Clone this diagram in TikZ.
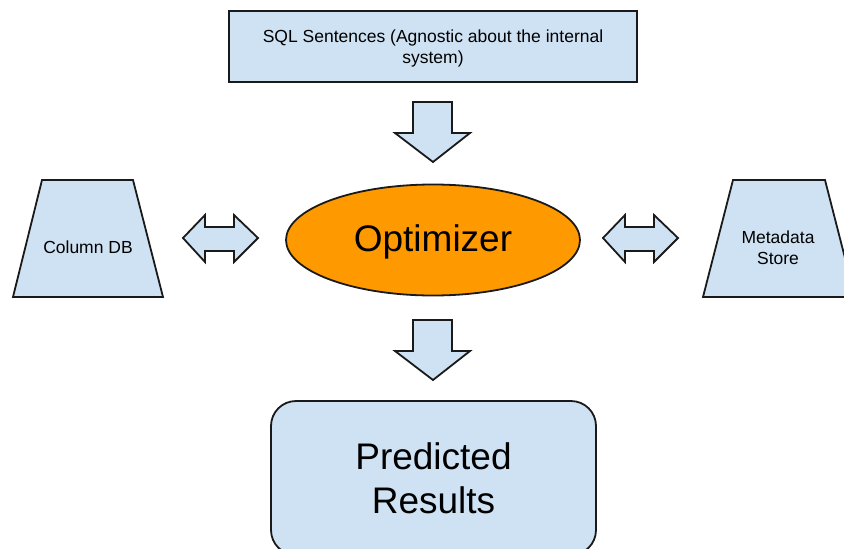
\documentclass[tikz,border=0pt]{standalone}
\usepackage{fontspec}
\setmainfont{Liberation Sans}
\usetikzlibrary{shapes.geometric}
\definecolor{boxblue}{HTML}{CFE2F3}
\definecolor{optorange}{HTML}{FF9900}
\definecolor{edgecol}{HTML}{1A1A1A}
\begin{document}
\begin{tikzpicture}[x=1pt,y=-1pt,
  blockshape/.style={draw=edgecol, line width=1.8pt, fill=boxblue, line join=miter},
  smalltext/.style={font=\fontsize{17.5}{21}\selectfont, align=center},
  bigtext/.style={font=\fontsize{37}{44}\selectfont, align=center}]
\useasboundingbox (0,0) rectangle (844,549);
\clip (0,0) rectangle (844,549);
% top box
\node[blockshape, rectangle, minimum width=408pt, minimum height=71pt, inner sep=0pt] (sql) at (433,46.5) {};
\node[smalltext] (sqltext) at (433,48) {SQL Sentences (Agnostic about the internal\\system)};
% down arrow 1
\coordinate (a1) at (433,102);
\draw[blockshape] ([xshift=-20pt]a1) -- ([xshift=19pt]a1) -- ([xshift=19pt,yshift=-31pt]a1) -- ([xshift=37pt,yshift=-31pt]a1) -- ([yshift=-60pt]a1) -- ([xshift=-38pt,yshift=-31pt]a1) -- ([xshift=-20pt,yshift=-31pt]a1) -- cycle;
% down arrow 2
\coordinate (a2) at (433,320);
\draw[blockshape] ([xshift=-20pt]a2) -- ([xshift=19pt]a2) -- ([xshift=19pt,yshift=-31pt]a2) -- ([xshift=37pt,yshift=-31pt]a2) -- ([yshift=-60pt]a2) -- ([xshift=-38pt,yshift=-31pt]a2) -- ([xshift=-20pt,yshift=-31pt]a2) -- cycle;
% left double arrow
\coordinate (d1) at (183,238);
\draw[blockshape] (d1) -- ([xshift=22pt,yshift=23pt]d1) -- ([xshift=22pt,yshift=11pt]d1) -- ([xshift=51pt,yshift=11pt]d1) -- ([xshift=51pt,yshift=23pt]d1) -- ([xshift=75pt]d1) -- ([xshift=51pt,yshift=-24pt]d1) -- ([xshift=51pt,yshift=-13pt]d1) -- ([xshift=22pt,yshift=-13pt]d1) -- ([xshift=22pt,yshift=-24pt]d1) -- cycle;
% right double arrow
\coordinate (d2) at (603,238);
\draw[blockshape] (d2) -- ([xshift=22pt,yshift=23pt]d2) -- ([xshift=22pt,yshift=11pt]d2) -- ([xshift=51pt,yshift=11pt]d2) -- ([xshift=51pt,yshift=23pt]d2) -- ([xshift=75pt]d2) -- ([xshift=51pt,yshift=-24pt]d2) -- ([xshift=51pt,yshift=-13pt]d2) -- ([xshift=22pt,yshift=-13pt]d2) -- ([xshift=22pt,yshift=-24pt]d2) -- cycle;
% optimizer
\node[draw=edgecol, line width=1.8pt, fill=optorange, ellipse, minimum width=294pt, minimum height=111pt, inner sep=0pt] (opt) at (433,240) {};
\node[bigtext] (opttext) at (433,242) {Optimizer};
% column DB
\draw[blockshape] (42,180) -- (133,180) -- (163,297) -- (13,297) -- cycle;
\node[smalltext] (coldb) at (88,247) {Column DB};
% metadata store
\draw[blockshape] (733,180) -- (825,180) -- (855,297) -- (703,297) -- cycle;
\node[smalltext] (meta) at (778,248) {Metadata\\Store};
% predicted results
\node[blockshape, rectangle, rounded corners=25pt, minimum width=325pt, minimum height=154pt, inner sep=0pt] (pred) at (433.5,478) {};
\node[bigtext] (predtext) at (433.5,478) {Predicted\\Results};
\end{tikzpicture}
\end{document}
